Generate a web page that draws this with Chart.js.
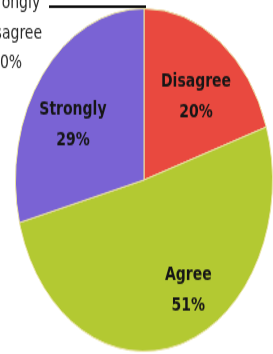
<!DOCTYPE html>
<html>
<head>
<meta charset="utf-8">
<script src="https://cdn.jsdelivr.net/npm/chart.js@4/dist/chart.umd.min.js"></script>
<style>
  html, body { margin: 0; padding: 0; background: #ffffff; overflow: hidden; width: 273px; height: 354px; }
  #wrap { position: absolute; left: -40px; top: 0; width: 330px; height: 266px;
          transform: scaleY(1.3333); transform-origin: 0 0; }
</style>
</head>
<body>
<div id="wrap"><canvas id="c"></canvas></div>
<script>
// ---- data ----
const categories = ["Strongly Disagree", "Disagree", "Agree", "Strongly Agree"];
const labelLines = [["Strongly", "Disagree"], ["Disagree"], ["Agree"], ["Strongly"]];
const percentages = [0, 20, 51, 29];
const sliceColors = ["#d8473f", "#e9493f", "#b3c932", "#7a63d4"];

const sliceLabelPlugin = {
  id: "sliceLabels",
  afterDatasetsDraw(chart, args, opts) {
    const ctx = chart.ctx;
    const meta = chart.getDatasetMeta(0);
    const values = chart.data.datasets[0].data;
    ctx.save();
    ctx.textAlign = "center";
    ctx.textBaseline = "middle";
    meta.data.forEach((arc, i) => {
      const p = arc.getProps(["x", "y", "startAngle", "endAngle", "outerRadius"], true);
      const place = opts.placement[i] || {};
      const lines = labelLines[i].concat([values[i] + "%"]);
      if (place.outside) {
        const ax = p.x + Math.cos(p.startAngle) * p.outerRadius;
        const ay = p.y + Math.sin(p.startAngle) * p.outerRadius;
        ctx.strokeStyle = "#0d0d0d";
        ctx.lineWidth = 2;
        ctx.beginPath();
        ctx.moveTo(ax + 2, ay - 1.6);
        ctx.lineTo(ax - place.lineLen, ay - 1.6);
        ctx.stroke();
        ctx.fillStyle = "#262626";
        ctx.font = "14px 'DejaVu Sans'";
        const tx = ax - place.textDx;
        lines.forEach((t, k) => ctx.fillText(t, tx, ay - 3.75 + k * opts.lineGap));
        return;
      }
      const mid = (p.startAngle + p.endAngle) / 2 + (place.shift || 0) * Math.PI / 180;
      const r = p.outerRadius * (place.frac || 0.65);
      const cx = p.x + Math.cos(mid) * r;
      const cy = p.y + Math.sin(mid) * r;
      ctx.fillStyle = "#161616";
      ctx.font = "bold 14px 'DejaVu Sans'";
      const top = cy - (lines.length - 1) * opts.lineGap / 2;
      lines.forEach((t, k) => ctx.fillText(t, cx, top + k * opts.lineGap));
    });
    ctx.restore();
  }
};

new Chart(document.getElementById("c"), {
  type: "pie",
  data: {
    labels: categories,
    datasets: [{
      data: percentages,
      backgroundColor: sliceColors,
      borderColor: "#e9e2a6",
      borderWidth: 1
    }]
  },
  options: {
    responsive: true,
    maintainAspectRatio: false,
    animation: false,
    layout: { padding: { left: 54, right: 16, top: 6, bottom: 2 } },
    plugins: {
      legend: { display: false },
      tooltip: { enabled: false },
      sliceLabels: {
        lineGap: 22.5,
        placement: [
          { outside: true, lineLen: 95, textDx: 133 },
          { shift: 4, frac: 0.63 },
          { shift: -12, frac: 0.73 },
          { shift: -7.6, frac: 0.64 }
        ]
      }
    }
  },
  plugins: [sliceLabelPlugin]
});
</script>
</body>
</html>
